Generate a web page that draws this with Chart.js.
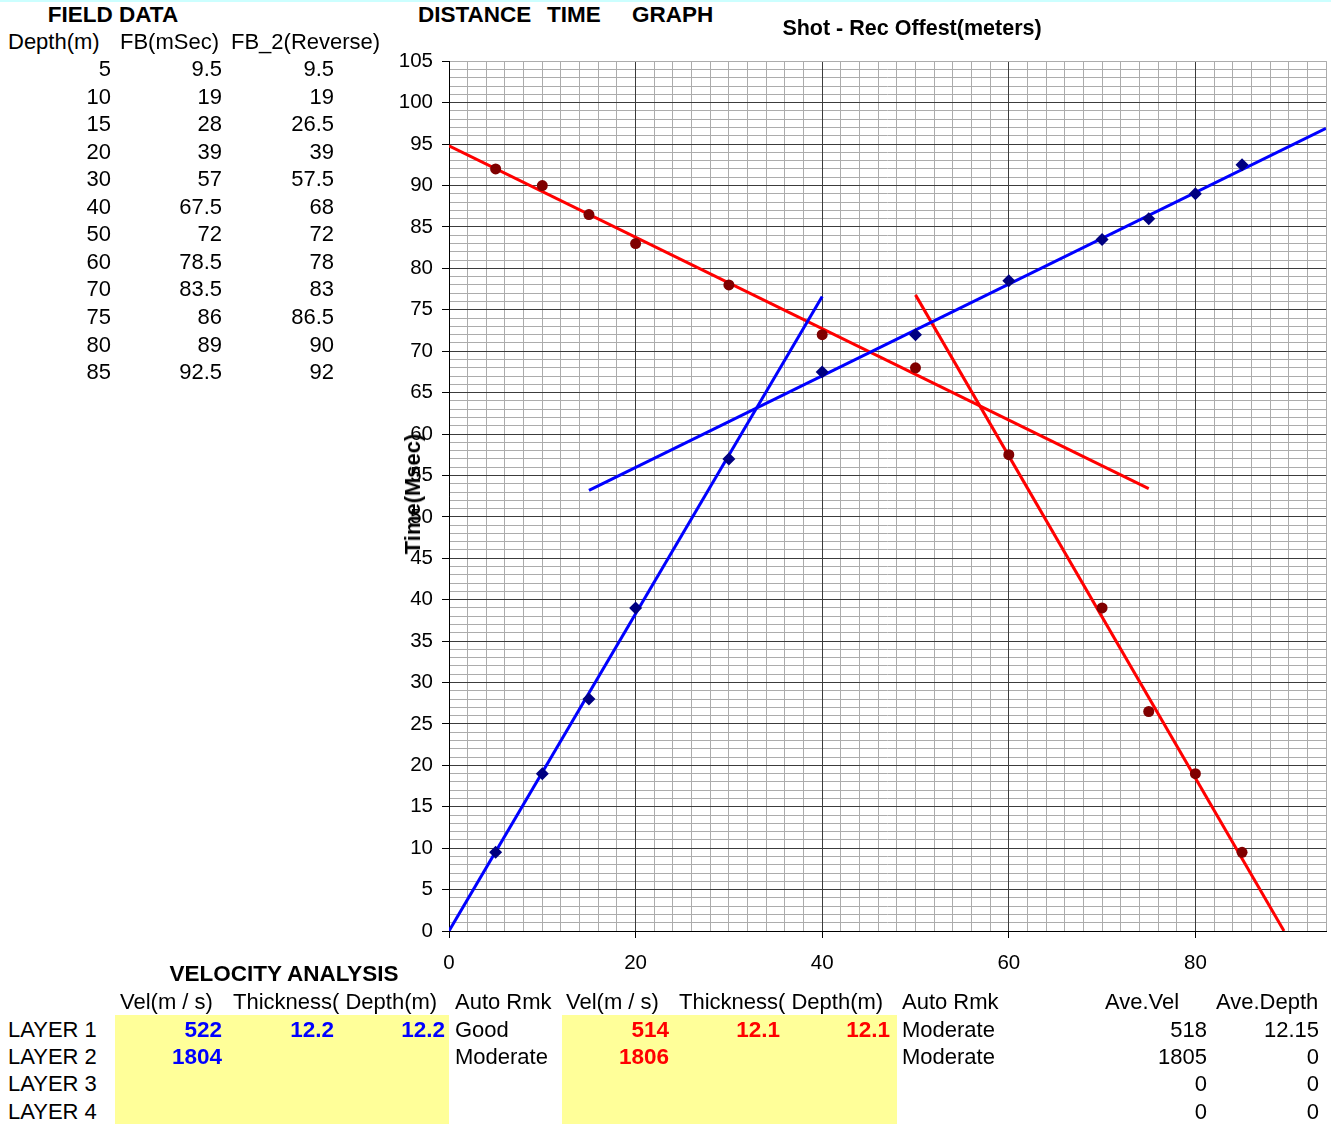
<!DOCTYPE html>
<html>
<head>
<meta charset="utf-8">
<title>Distance Time Graph</title>
<script src="https://cdn.jsdelivr.net/npm/chart.js"></script>
<style>
  body {
    margin: 0;
    width: 1331px;
    height: 1124px;
    position: relative;
    overflow: hidden;
    background: #fff;
    font-family: 'Liberation Sans', Arial, sans-serif;
    font-size: 22px;
    color: #000;
  }
  .t { position: absolute; white-space: pre; height: 28px; line-height: 28px; }
  .b { font-weight: bold; font-size: 22.5px; }
  .fill { position: absolute; background: #ffff99; }
  #topline { position: absolute; left: 0; top: 0; width: 1331px; height: 2px; background: #ccffff; }
  #wrap { position: absolute; left: 380px; top: 40px; width: 959px; height: 960px; }
  #ytitle {
    position: absolute; left: 413px; top: 494px; white-space: pre;
    font-weight: bold; font-size: 22px;
    transform: translate(-50%, -50%) rotate(-90deg);
  }
</style>
</head>
<body>
<div id="topline"></div>
<div class="fill" style="left:115px; top:1015px; width:334px; height:109px;"></div>
<div class="fill" style="left:562px; top:1015px; width:335px; height:109px;"></div>
<div id="wrap"><canvas id="chart" width="959" height="960"></canvas></div>
<div id="ytitle">Time(Msec)</div>
<script>
  // field data
  const depths = [5, 10, 15, 20, 30, 40, 50, 60, 70, 75, 80, 85];
  const fbForward = [9.5, 19, 28, 39, 57, 67.5, 72, 78.5, 83.5, 86, 89, 92.5];
  const fbReverse = [9.5, 19, 26.5, 39, 57.5, 68, 72, 78, 83, 86.5, 90, 92];
  // offset of each reverse pick measured from the shot end
  const reverseOffset = [85, 80, 75, 70, 60, 50, 40, 30, 20, 15, 10, 5];

  // fitted lines, end points
  const fwdDirectX = [0, 40],    fwdDirectT = [0, 76.6];
  const fwdRefrX = [15, 94],     fwdRefrT = [53.2, 96.9];
  const revDirectX = [50, 89.5], revDirectT = [76.8, 0];
  const revRefrX = [0, 75],      revRefrT = [94.8, 53.4];

  // velocity analysis
  const layers = ['LAYER 1', 'LAYER 2', 'LAYER 3', 'LAYER 4'];
  const fwdVel = ['522', '1804', '', ''];
  const fwdThick = ['12.2', '', '', ''];
  const fwdDepth = ['12.2', '', '', ''];
  const fwdRemark = ['Good', 'Moderate', '', ''];
  const revVel = ['514', '1806', '', ''];
  const revThick = ['12.1', '', '', ''];
  const revDepth = ['12.1', '', '', ''];
  const revRemark = ['Moderate', 'Moderate', '', ''];
  const aveVel = ['518', '1805', '0', '0'];
  const aveDepth = ['12.15', '0', '0', '0'];

  const FONT = "'Liberation Sans', Arial, sans-serif";

  function put(text, x, y, align, cls, color) {
    const d = document.createElement('div');
    d.className = 't ' + (cls || '');
    d.textContent = text;
    if (align === 'right') d.style.right = (1331 - x) + 'px';
    else if (align === 'center') { d.style.left = x + 'px'; d.style.transform = 'translateX(-50%)'; }
    else d.style.left = x + 'px';
    d.style.top = (y - 14) + 'px';
    if (color) d.style.color = color;
    document.body.appendChild(d);
    return d;
  }

  // headings
  put('FIELD DATA', 113, 14.5, 'center', 'b');
  put('DISTANCE', 418, 14.5, 'left', 'b');
  put('TIME', 547, 14.5, 'left', 'b');
  put('GRAPH', 632, 14.5, 'left', 'b');
  put('Shot - Rec Offest(meters)', 912, 28, 'center', 'b').style.fontSize = '21.5px';

  // field data table
  put('Depth(m)', 8, 42);
  put('FB(mSec)', 120, 42);
  put('FB_2(Reverse)', 231, 42);
  depths.forEach((d, i) => {
    const y = 69 + i * 27.55;
    put(String(d), 111, y, 'right');
    put(String(fbForward[i]), 222, y, 'right');
    put(String(fbReverse[i]), 334, y, 'right');
  });

  // velocity analysis table
  put('VELOCITY ANALYSIS', 284, 974, 'center', 'b');
  put('Vel(m / s)', 120, 1002);
  put('Thickness( Depth(m)', 233, 1002);
  put('Auto Rmk', 455, 1002);
  put('Vel(m / s)', 566, 1002);
  put('Thickness( Depth(m)', 679, 1002);
  put('Auto Rmk', 902, 1002);
  put('Ave.Vel', 1105, 1002);
  put('Ave.Depth', 1216, 1002);
  layers.forEach((name, i) => {
    const y = 1029.5 + i * 27.4;
    put(name, 8, y);
    put(fwdVel[i], 222, y, 'right', 'b', '#0000ff');
    put(fwdThick[i], 334, y, 'right', 'b', '#0000ff');
    put(fwdDepth[i], 445, y, 'right', 'b', '#0000ff');
    put(fwdRemark[i], 455, y);
    put(revVel[i], 669, y, 'right', 'b', '#ff0000');
    put(revThick[i], 780, y, 'right', 'b', '#ff0000');
    put(revDepth[i], 890, y, 'right', 'b', '#ff0000');
    put(revRemark[i], 902, y);
    put(aveVel[i], 1207, y, 'right');
    put(aveDepth[i], 1319, y, 'right');
  });

  const pts = (xs, ys) => xs.map((x, i) => ({ x: x, y: ys[i] }));
  const fitLine = (xs, ys, color) => ({
    data: pts(xs, ys), showLine: true, pointRadius: 0,
    borderColor: color, borderWidth: 3, fill: false
  });

  const MAJOR = '#3c3c3c', MINOR = '#acacac';
  const isMajorX = c => c.tick && c.tick.value % 20 === 0;

  new Chart(document.getElementById('chart'), {
    type: 'scatter',
    data: {
      datasets: [
        { label: 'FB(mSec)', data: pts(depths, fbForward), pointStyle: 'rectRot', pointRadius: 6.5,
          backgroundColor: '#000080', borderColor: '#000080', borderWidth: 0 },
        { label: 'FB_2(Reverse)', data: pts(reverseOffset, fbReverse), pointStyle: 'circle', pointRadius: 5.5,
          backgroundColor: '#800000', borderColor: '#800000', borderWidth: 0 },
        fitLine(fwdDirectX, fwdDirectT, '#0000ff'),
        fitLine(fwdRefrX, fwdRefrT, '#0000ff'),
        fitLine(revDirectX, revDirectT, '#ff0000'),
        fitLine(revRefrX, revRefrT, '#ff0000')
      ]
    },
    options: {
      responsive: false,
      animation: false,
      layout: { padding: { top: 21, right: 6, bottom: 29, left: 0 } },
      plugins: { legend: { display: false }, tooltip: { enabled: false } },
      scales: {
        x: {
          type: 'linear', position: 'bottom', min: 0, max: 94, bounds: 'data',
          ticks: { stepSize: 20, autoSkip: false, maxRotation: 0,
                   callback: v => (v % 20 === 0 ? v : ''),
                   padding: 13, color: '#000', font: { family: FONT, size: 20.5 } },
          grid: { color: c => (isMajorX(c) ? MAJOR : MINOR),
                  tickColor: c => (isMajorX(c) ? '#000' : 'rgba(0,0,0,0)'),
                  tickLength: 7, z: -1 },
          border: { color: '#000', width: 1 },
          afterFit: s => { s.height = 40; }
        },
        xMinor: {
          type: 'linear', position: 'bottom', min: 0, max: 94, bounds: 'data',
          ticks: { stepSize: 2, display: false, autoSkip: false },
          grid: { color: MINOR, drawTicks: false, z: -2 },
          border: { display: false },
          afterFit: s => { s.height = 0; }
        },
        y: {
          type: 'linear', position: 'left', min: 0, max: 105,
          ticks: { stepSize: 5, autoSkip: false, padding: 9, color: '#000',
                   font: { family: FONT, size: 20.5 } },
          grid: { color: c => (c.tick && c.tick.value === 105 ? MINOR : MAJOR),
                  tickColor: '#000', tickLength: 7, z: -1 },
          border: { color: '#000', width: 1 },
          afterFit: s => { s.width = 69; }
        },
        yMinor: {
          type: 'linear', position: 'left', min: 0, max: 105,
          ticks: { stepSize: 1, display: false, autoSkip: false },
          grid: { color: MINOR, drawTicks: false, z: -2 },
          border: { display: false },
          afterFit: s => { s.width = 0; }
        }
      }
    }
  });
</script>
</body>
</html>
